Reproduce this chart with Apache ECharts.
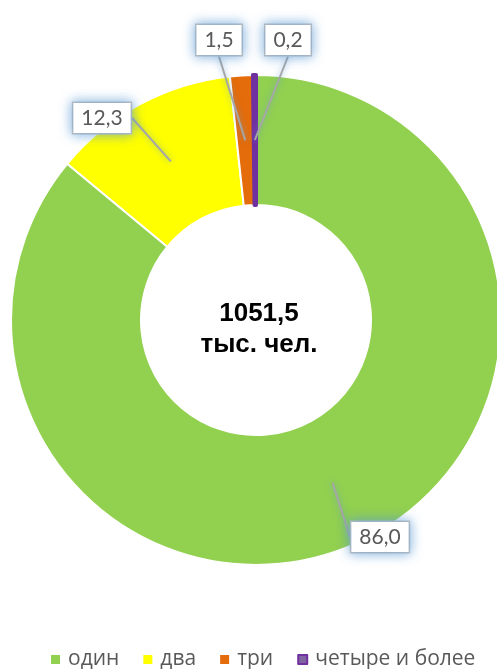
<!DOCTYPE html>
<html>
<head>
<meta charset="utf-8">
<script src="https://cdn.jsdelivr.net/npm/echarts@6/dist/echarts.min.js"></script>
<style>
html,body{margin:0;padding:0;background:#fff;}
#main{width:497px;height:669px;}
</style>
</head>
<body>
<div id="main"></div>
<script>
// data
var categories = ['один', 'два', 'три', 'четыре и более'];
var shares = [86.0, 12.3, 1.5, 0.2];
var totalText = '1051,5';
var unitText = 'тыс. чел.';

var colors = ['#92d050', '#ffff00', '#e46c0a', '#7030a0'];
// where each callout box sits (box centre, px)
var labelPos = [[380, 537], [102, 118], [219, 40], [288, 40]];

var fmt = function (v) {
    return v.toFixed(1).replace('.', ',');
};

var ringData = [], labelData = [];
for (var i = 0; i < categories.length; i++) {
    var last = i == categories.length - 1;
    ringData.push({
        name: categories[i],
        value: shares[i],
        itemStyle: {
            color: colors[i],
            borderColor: last ? colors[i] : '#fff',
            borderWidth: last ? 4 : 2
        }
    });
    labelData.push({ name: categories[i], value: shares[i] });
}

var legendData = categories.map(function (c, i) {
    var last = i == categories.length - 1;
    return {
        name: c,
        itemStyle: last ? { color: '#8064a2', borderColor: '#7030a0', borderWidth: 2 } : { color: colors[i], borderWidth: 0 }
    };
});

var chart = echarts.init(document.getElementById('main'));
chart.setOption({
    backgroundColor: '#fff',
    animation: false,
    title: {
        text: totalText + '\n' + unitText,
        left: 254,
        top: 293,
        textAlign: 'center',
        textStyle: {
            fontFamily: 'Liberation Sans',
            fontWeight: 'bold',
            fontSize: 26,
            lineHeight: 31,
            color: '#000'
        }
    },
    legend: {
        data: legendData,
        top: 644,
        left: 46,
        icon: 'rect',
        itemWidth: 9,
        itemHeight: 9,
        itemGap: 24,
        selectedMode: false,
        textStyle: {
            fontFamily: 'Open Sans',
            fontSize: 21,
            color: '#595959',
            padding: [0, 0, 0, 3]
        }
    },
    series: [
        {
            type: 'pie',
            z: 2,
            center: [256, 320],
            radius: [115, 245],
            startAngle: 90,
            clockwise: true,
            silent: true,
            label: { show: false },
            labelLine: { show: false },
            data: ringData
        },
        {
            type: 'pie',
            z: 5,
            center: [256, 320],
            radius: [0, 180],
            startAngle: 90,
            clockwise: true,
            silent: true,
            itemStyle: { color: 'rgba(0,0,0,0)' },
            label: {
                show: true,
                position: 'outside',
                formatter: function (p) { return fmt(p.value); },
                fontFamily: 'Lato',
                fontSize: 21,
                color: '#595959',
                backgroundColor: '#fff',
                borderColor: '#bfbfbf',
                borderWidth: 1.5,
                padding: [5, 8, 4, 8],
                shadowColor: 'rgba(91,155,213,0.75)',
                shadowBlur: 12
            },
            labelLine: {
                show: true,
                showAbove: true,
                length: 0,
                length2: 0,
                lineStyle: {
                    color: '#a6a6a6',
                    width: 2,
                    shadowColor: 'rgba(91,155,213,0.7)',
                    shadowBlur: 6
                }
            },
            labelLayout: function (params) {
                var p = labelPos[params.dataIndex];
                return { x: p[0], y: p[1], align: 'center', verticalAlign: 'middle' };
            },
            data: labelData
        }
    ]
});
</script>
</body>
</html>
